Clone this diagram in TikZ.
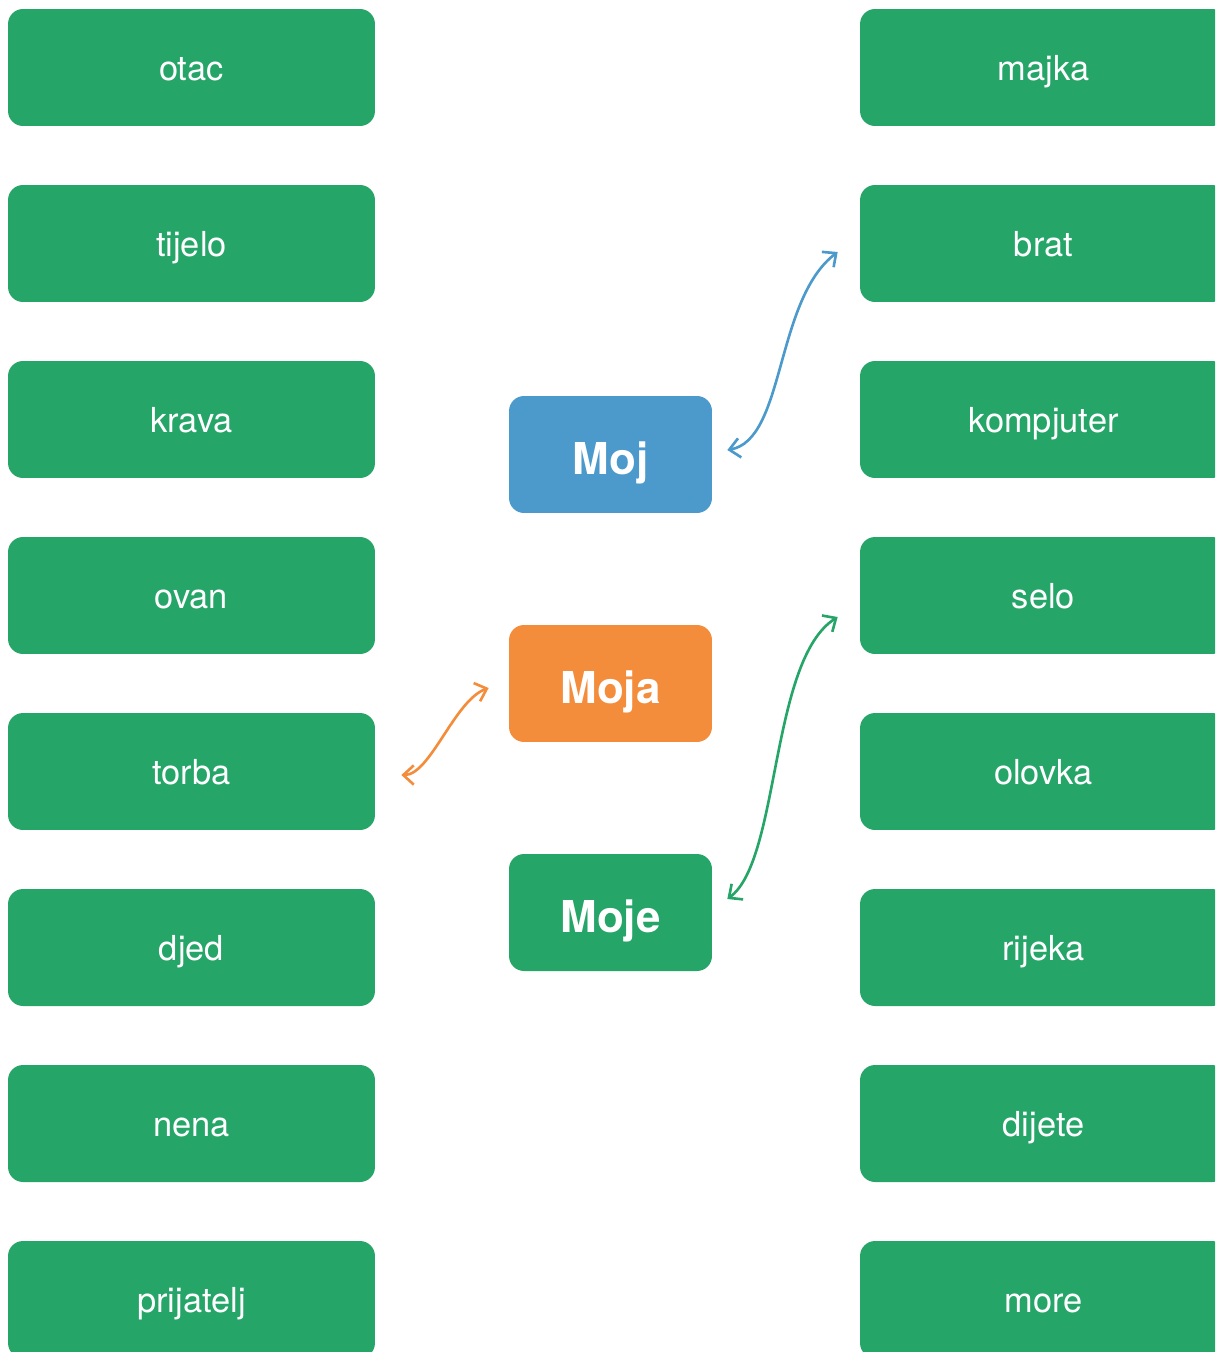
\documentclass[tikz,border=0pt]{standalone}
\usepackage{fontspec}
\setmainfont{TeX Gyre Heros}
\usepackage{tikz}
\usetikzlibrary{arrows.meta, positioning}
\definecolor{wordgreen}{RGB}{37,165,104}
\definecolor{mojblue}{RGB}{75,154,203}
\definecolor{mojaorange}{RGB}{244,141,59}

\begin{document}
\begin{tikzpicture}[x=0.02cm, y=-0.02cm,
    word/.style={rectangle, rounded corners=0.3cm, fill=wordgreen, text=white,
        minimum width=7.34cm, minimum height=2.34cm, inner sep=0pt,
        font=\fontsize{19.6}{22}\selectfont, text height=18.5pt, text depth=4pt},
    pronoun/.style={word, minimum width=4.06cm,
        font=\fontsize{25}{28}\selectfont\bfseries, text height=26pt, text depth=3.6pt},
    link/.style={line width=1.5pt, {Straight Barb[length=6pt,width=11pt]}-{Straight Barb[length=6pt,width=11pt]}}]
    % Okvir slike
    \useasboundingbox (0,0) rectangle (1215,1352);
    \clip (0,0) rectangle (1215,1352);

    % Lijevi stupac
    \node[word] (otac) at (191.5,67.5) {otac};
    \node[word] (tijelo) at (191.5,243.5) {tijelo};
    \node[word] (krava) at (191.5,419.5) {krava};
    \node[word] (ovan) at (191.5,595.5) {ovan};
    \node[word] (torba) at (191.5,771.5) {torba};
    \node[word] (djed) at (191.5,947.5) {djed};
    \node[word] (nena) at (191.5,1123.5) {nena};
    \node[word] (prijatelj) at (191.5,1299.5) {prijatelj};

    % Desni stupac
    \node[word] (majka) at (1043.5,67.5) {majka};
    \node[word] (brat) at (1043.5,243.5) {brat};
    \node[word] (kompjuter) at (1043.5,419.5) {kompjuter};
    \node[word] (selo) at (1043.5,595.5) {selo};
    \node[word] (olovka) at (1043.5,771.5) {olovka};
    \node[word] (rijeka) at (1043.5,947.5) {rijeka};
    \node[word] (dijete) at (1043.5,1123.5) {dijete};
    \node[word] (more) at (1043.5,1299.5) {more};

    % Srednji stupac
    \node[pronoun, fill=mojblue] (moj) at (610.5,454.5) {Moj};
    \node[pronoun, fill=mojaorange] (moja) at (610.5,683.5) {Moja};
    \node[pronoun] (moje) at (610.5,912.5) {Moje};

    % Strelice
    \draw[link, mojblue] ([shift={(15,-4.5)}]moj.east)
        .. controls +(58,-10) and +(-63,48) .. ([shift={(-22,8.5)}]brat.west);
    \draw[link, mojaorange] ([shift={(26,3.5)}]torba.east)
        .. controls +(29,0) and +(-34,12) .. ([shift={(-20,4.5)}]moja.west);
    \draw[link, wordgreen] ([shift={(15,-13.5)}]moje.east)
        .. controls +(53,-39) and +(-68,43) .. ([shift={(-22,21.5)}]selo.west);
\end{tikzpicture}
\end{document}
